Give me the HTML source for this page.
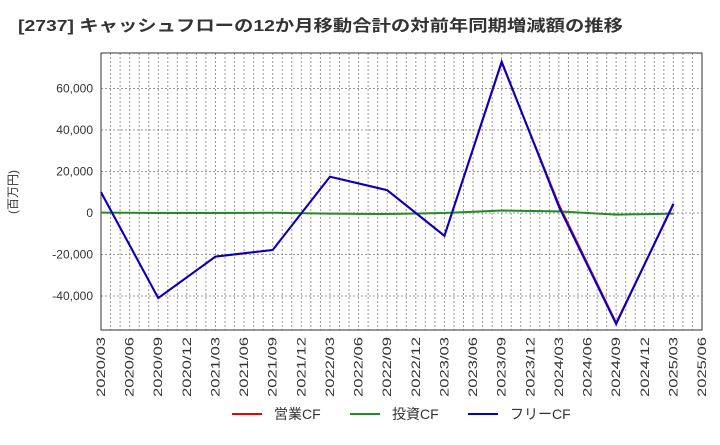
<!DOCTYPE html>
<html><head><meta charset="utf-8"><style>
body{margin:0;background:#fff;font-family:"Liberation Sans","Noto Sans CJK JP",sans-serif}
</style></head><body>
<svg id="c" width="720" height="440" xmlns="http://www.w3.org/2000/svg">
<text x="18" y="31" font-size="16" font-weight="bold" fill="#333" textLength="605" lengthAdjust="spacingAndGlyphs" font-family="Liberation Sans,Noto Sans CJK JP,sans-serif">[2737]  キャッシュフローの12か月移動合計の対前年同期増減額の推移</text>
<text transform="translate(17,192) rotate(-90)" text-anchor="middle" font-size="12" fill="#333" font-family="Liberation Sans,Noto Sans CJK JP,sans-serif">(百万円)</text>
<g id="grid"></g><g id="axes"></g><g id="series"></g><g id="legend"></g>
</svg>
<script>
const xLabels=["2020/03","2020/06","2020/09","2020/12","2021/03","2021/06","2021/09","2021/12","2022/03","2022/06","2022/09","2022/12","2023/03","2023/06","2023/09","2023/12","2024/03","2024/06","2024/09","2024/12","2025/03","2025/06"];
const yTicks=[-40000,-20000,0,20000,40000,60000];
const pointQuarters=[0,2,4,6,8,10,12,14,16,18,20];
const opCF=[10000,-41000,-21000,-17800,17500,11000,-11000,72500,4000,-53000,4000];
const invCF=[200,0,0,100,-300,-500,0,1200,800,-800,-300];
const fcf=[10000,-41000,-21000,-17800,17500,11000,-11000,73000,3000,-53500,4500];
const L=101,R=702,T=53,B=330;
const NS="http://www.w3.org/2000/svg";
const x=q=>L+q*(R-L)/21;
const y=v=>213-v*(41.5/20000);
function mk(t,a,p){const e=document.createElementNS(NS,t);for(const k in a)e.setAttribute(k,a[k]);p.appendChild(e);return e;}
const g=document.getElementById('grid'),ax=document.getElementById('axes'),s=document.getElementById('series'),lg=document.getElementById('legend');
for(let m=1;m<63;m++){const xx=L+m*(R-L)/63;
const ln=mk('line',{x1:xx,x2:xx,y1:T,y2:B,stroke:'#999','stroke-dasharray':'2,2','stroke-width':1},g);
}
yTicks.forEach(v=>{const ln=mk('line',{x1:L,x2:R,y1:y(v),y2:y(v),stroke:'#999','stroke-dasharray':'2,2'},g);

const t=mk('text',{x:L-8,y:y(v)+4,'text-anchor':'end','font-size':12,fill:'#333'},ax);t.textContent=v.toLocaleString('en-US');
});
const fr=mk('rect',{x:L,y:T,width:R-L,height:B-T,fill:'none',stroke:'#333'},ax);

xLabels.forEach((lb,i)=>{const t=mk('text',{transform:`translate(${x(i)+4},${B+7}) rotate(-90)`,'text-anchor':'end','font-size':12,fill:'#333',textLength:60,lengthAdjust:'spacingAndGlyphs'},ax);t.textContent=lb;
});
const ser=[[opCF,'#e00','operating-cf-line'],[invCF,'#228b22','investing-cf-line'],[fcf,'#00c','free-cf-line']];
ser.forEach(([d,c,n])=>{const p=mk('polyline',{points:d.map((v,i)=>x(pointQuarters[i])+','+y(v)).join(' '),fill:'none',stroke:c,'stroke-width':2},s);
});
const items=[['営業CF','#e00',232],['投資CF','#228b22',350],['フリーCF','#00c',468]];
items.forEach(([t,c,lx])=>{const gg=mk('g',{},lg);
mk('line',{x1:lx,x2:lx+30,y1:414,y2:414,stroke:c,'stroke-width':2},gg);
const tx=mk('text',{x:lx+42,y:419,'font-size':14,fill:'#333'},gg);tx.textContent=t;});
</script>
</body></html>
